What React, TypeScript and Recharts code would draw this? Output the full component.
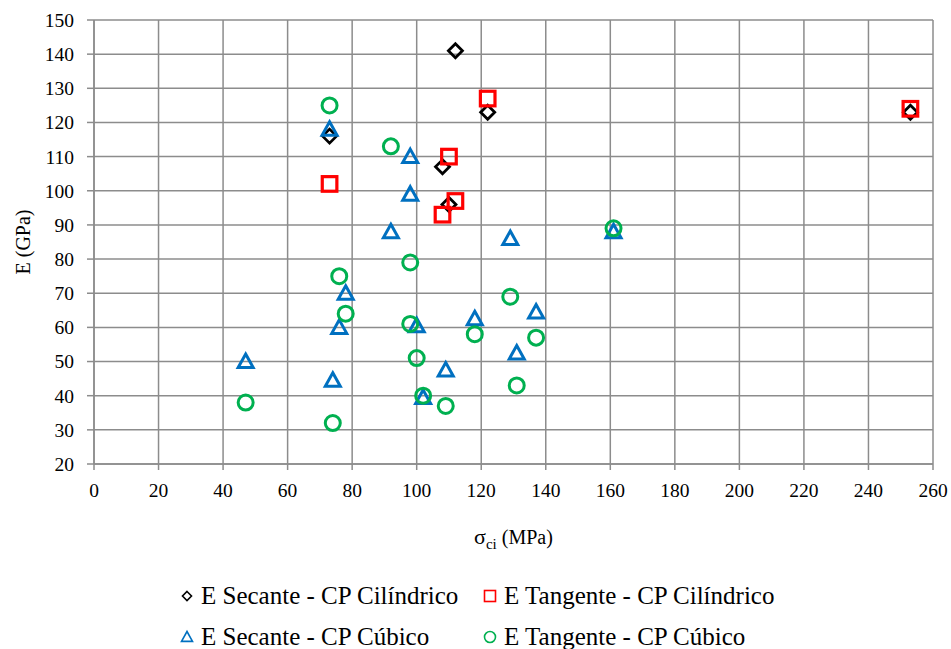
import React from "react"
import { ScatterChart, Scatter, XAxis, YAxis, CartesianGrid } from "recharts"

// valores (σci em MPa, E em GPa)
const secCilX = [73, 112, 122, 108, 110, 253]
const secCilY = [116, 141, 123, 107, 96, 123]
const tanCilX = [73, 122, 110, 112, 108, 253]
const tanCilY = [102, 127, 110, 97, 93, 124]
const secCubX = [73, 98, 98, 92, 129, 161, 78, 76, 100, 118, 137, 131, 109, 74, 102, 47]
const secCubY = [118, 110, 99, 88, 86, 88, 70, 60, 60.5, 62.5, 64.5, 52.5, 47.5, 44.5, 39.5, 50]
const tanCubX = [73, 92, 98, 76, 78, 98, 100, 102, 109, 74, 118, 129, 137, 131, 161, 47]
const tanCubY = [125, 113, 79, 75, 64, 61, 51, 40, 37, 32, 58, 69, 57, 43, 89, 38]

const xTicks = [0, 20, 40, 60, 80, 100, 120, 140, 160, 180, 200, 220, 240, 260]
const yTicks = [20, 30, 40, 50, 60, 70, 80, 90, 100, 110, 120, 130, 140, 150]

const seriesNames = [
  "E Secante - CP Cilíndrico",
  "E Tangente - CP Cilíndrico",
  "E Secante - CP Cúbico",
  "E Tangente - CP Cúbico",
]

const toPoints = (xs: number[], ys: number[]) => xs.map((x, i) => ({ x, y: ys[i] }))

const FONT = "Liberation Serif, DejaVu Serif, Times New Roman, serif"
const GRID = "#8c8c8c"

function Diamond(props: any) {
  const { cx, cy } = props
  const r = props.r ?? 7
  return (
    <path
      d={`M${cx},${cy - r} L${cx + r},${cy} L${cx},${cy + r} L${cx - r},${cy} Z`}
      fill="none"
      stroke="#000"
      strokeWidth={props.sw ?? 2.8}
    />
  )
}

function Square(props: any) {
  const { cx, cy } = props
  const h = props.r ?? 7.3
  return (
    <rect
      x={cx - h}
      y={cy - h}
      width={h * 2}
      height={h * 2}
      fill="none"
      stroke="#ff0000"
      strokeWidth={props.sw ?? 3.2}
    />
  )
}

function Triangle(props: any) {
  const { cx, cy } = props
  const h = props.r ?? 7.5
  return (
    <path
      d={`M${cx},${cy - h} L${cx + h},${cy + h * 0.8} L${cx - h},${cy + h * 0.8} Z`}
      fill="none"
      stroke="#0070c0"
      strokeWidth={props.sw ?? 3}
    />
  )
}

function Ring(props: any) {
  const { cx, cy } = props
  return (
    <circle cx={cx} cy={cy} r={props.r ?? 7.5} fill="none" stroke="#00b050" strokeWidth={props.sw ?? 3} />
  )
}

const shapes = [Diamond, Square, Triangle, Ring]
const legendSizes = [4.5, 5.5, 5.5, 5.5]

function XTitle(props: any) {
  const vb = props.viewBox
  const cx = vb.x + vb.width / 2
  return (
    <text x={cx} y={544} textAnchor="middle" style={{ fontFamily: FONT }} fill="#000" fontSize={20}>
      <tspan fontSize={22}>σ</tspan>
      <tspan fontSize={15} dy={5}>ci</tspan>
      <tspan dy={-5}> (MPa)</tspan>
    </text>
  )
}

function YTitle() {
  return (
    <text
      x={30}
      y={242}
      transform="rotate(-90 30 242)"
      textAnchor="middle"
      style={{ fontFamily: FONT }}
      fontSize={20}
      fill="#000"
    >
      E (GPa)
    </text>
  )
}

function LegendBox() {
  const slots = [
    { left: 179, top: 596 },
    { left: 482, top: 596 },
    { left: 179, top: 637 },
    { left: 482, top: 637 },
  ]
  return (
    <>
      {seriesNames.map((name, i) => {
        const Shape = shapes[i]
        return (
          <div
            key={name}
            style={{
              position: "absolute",
              left: slots[i].left,
              top: slots[i].top - 13,
              height: 26,
              display: "flex",
              alignItems: "center",
              fontFamily: FONT,
              fontSize: 25,
              lineHeight: "26px",
              whiteSpace: "nowrap",
            }}
          >
            <svg width={16} height={16} style={{ marginRight: 6 }}>
              <Shape cx={8} cy={8} r={legendSizes[i]} sw={1.6} />
            </svg>
            <span>{name}</span>
          </div>
        )
      })}
    </>
  )
}

export default function App() {
  const data = [
    toPoints(secCilX, secCilY),
    toPoints(tanCilX, tanCilY),
    toPoints(secCubX, secCubY),
    toPoints(tanCubX, tanCubY),
  ]
  const tickStyle = { fontSize: 19.5, fill: "#000", fontFamily: FONT }
  return (
    <div
      style={{
        position: "relative",
        width: 951,
        height: 649,
        overflow: "hidden",
        background: "#fff",
        fontFamily: FONT,
      }}
    >
      <style>{"html,body{margin:0;padding:0;overflow:visible}"}</style>
      <ScatterChart
        width={951}
        height={649}
        margin={{ top: 20, right: 18, left: 44, bottom: 155 }}
        style={{ fontFamily: FONT }}
      >
        <CartesianGrid stroke={GRID} strokeWidth={1.5} />
        <XAxis
          type="number"
          dataKey="x"
          domain={[0, 260]}
          ticks={xTicks}
          interval={0}
          height={30}
          tick={tickStyle}
          tickSize={6}
          tickMargin={13}
          axisLine={{ stroke: GRID, strokeWidth: 1.5 }}
          tickLine={{ stroke: GRID, strokeWidth: 1.5 }}
          label={<XTitle />}
        />
        <YAxis
          type="number"
          dataKey="y"
          domain={[20, 150]}
          ticks={yTicks}
          interval={0}
          width={50}
          tick={tickStyle}
          tickSize={7}
          tickMargin={13}
          axisLine={{ stroke: GRID, strokeWidth: 1.5 }}
          tickLine={{ stroke: GRID, strokeWidth: 1.5 }}
          label={<YTitle />}
        />
        {data.map((pts, i) => (
          <Scatter
            key={seriesNames[i]}
            name={seriesNames[i]}
            data={pts}
            shape={shapes[i]}
            isAnimationActive={false}
          />
        ))}
      </ScatterChart>
      <LegendBox />
    </div>
  )
}
